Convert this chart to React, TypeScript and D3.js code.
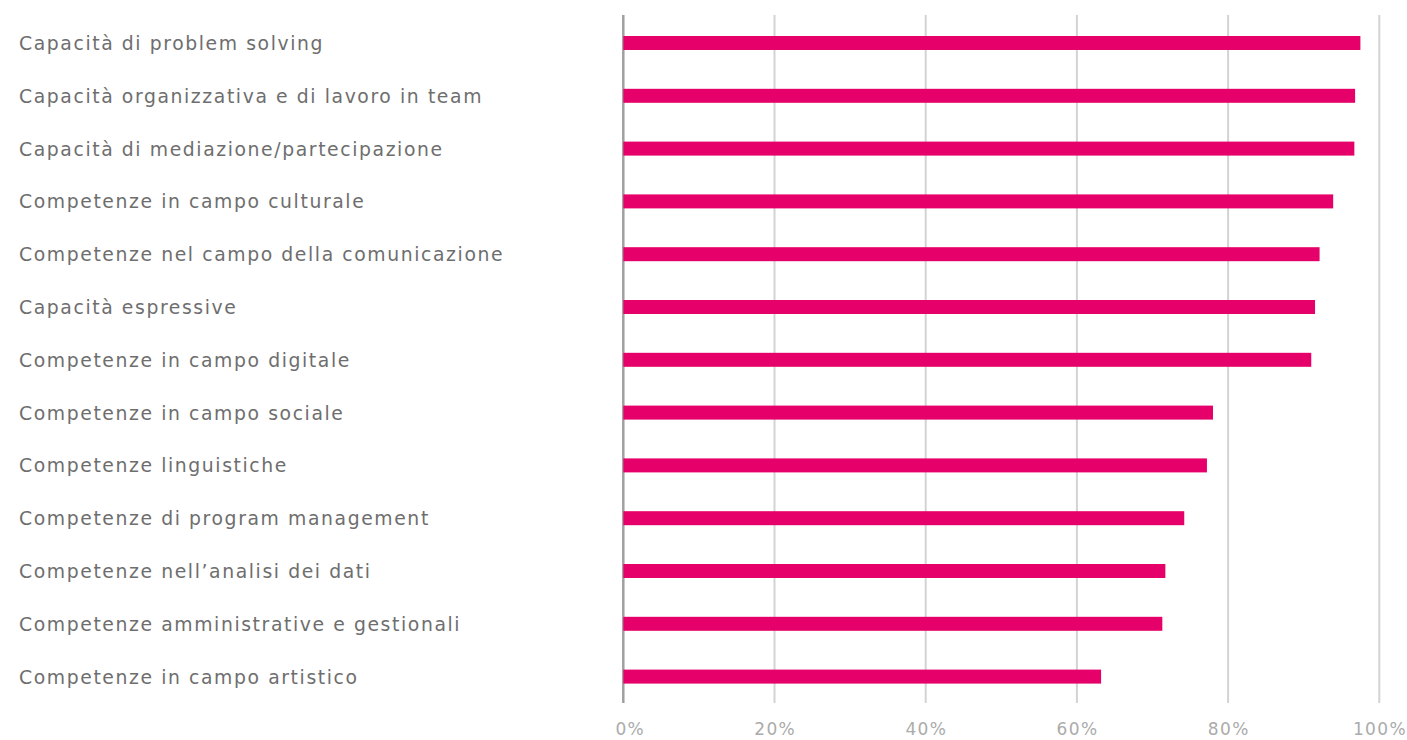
import React from "react";
import * as d3 from "d3";

const categories = [
  "Capacità di problem solving",
  "Capacità organizzativa e di lavoro in team",
  "Capacità di mediazione/partecipazione",
  "Competenze in campo culturale",
  "Competenze nel campo della comunicazione",
  "Capacità espressive",
  "Competenze in campo digitale",
  "Competenze in campo sociale",
  "Competenze linguistiche",
  "Competenze di program management",
  "Competenze nell’analisi dei dati",
  "Competenze amministrative e gestionali",
  "Competenze in campo artistico",
];

const values = [97.5, 96.8, 96.7, 93.9, 92.1, 91.5, 91.0, 78.0, 77.2, 74.2, 71.7, 71.3, 63.2];

const ticks = [0, 20, 40, 60, 80, 100];

const W = 1407;
const H = 740;

export default function App() {
  const x = d3.scaleLinear().domain([0, 100]).range([623.3, 1379.3]);
  const y = d3
    .scaleBand<string>()
    .domain(categories)
    .range([16.6, 703])
    .paddingInner(0.735)
    .paddingOuter(0.3675);
  const font = "'DejaVu Sans', sans-serif";
  return (
    <svg
      width={W}
      height={H}
      style={{ position: "absolute", left: 0, top: 0, background: "#fff" }}
    >
      {ticks.map((t) => (
        <line
          key={"g" + t}
          x1={x(t)}
          x2={x(t)}
          y1={15}
          y2={703}
          stroke={t === 0 ? "#a0a0a0" : "#d3d3d3"}
          strokeWidth={t === 0 ? 2.5 : 2}
        />
      ))}
      {categories.map((c, i) => (
        <rect
          key={"b" + c}
          x={x(0)}
          y={y(c)}
          width={x(values[i]) - x(0)}
          height={y.bandwidth()}
          fill="#e5006a"
        />
      ))}
      {categories.map((c) => (
        <text
          key={"l" + c}
          x={19}
          y={(y(c) as number) + y.bandwidth() / 2 + 7}
          fontFamily={font}
          fontSize={18.8}
          letterSpacing={1.6}
          fill="#6e6e6e"
        >
          {c}
        </text>
      ))}
      {ticks.map((t, i) => (
        <text
          key={"t" + t}
          x={x(t) + (i === 0 ? 7 : 0.7)}
          y={735}
          textAnchor="middle"
          fontFamily={font}
          fontSize={17}
          letterSpacing={1.4}
          fill="#ababab"
        >
          {t + "%"}
        </text>
      ))}
    </svg>
  );
}
